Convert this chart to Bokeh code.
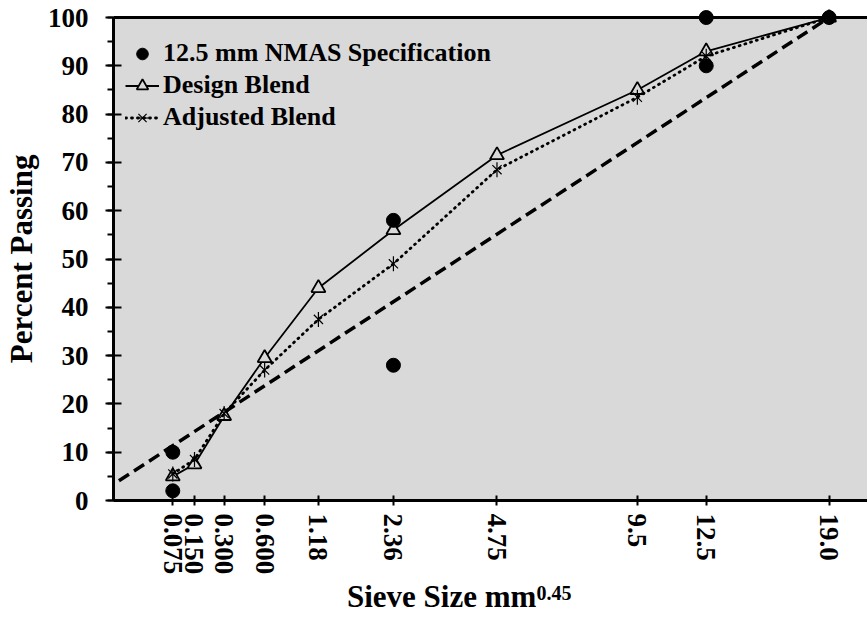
import math
import numpy as np
from bokeh.plotting import figure
from bokeh.layouts import column
from bokeh.models import (Range1d, FixedTicker, SingleIntervalTicker, Legend,
                          LegendItem, Span, BoxAnnotation, Div)
from bokeh.embed import file_html
from bokeh.resources import INLINE

# ---- data ----
sieve_mm = [0.075, 0.150, 0.300, 0.600, 1.18, 2.36, 4.75, 9.5, 12.5, 19.0]
sieve_labels = ["0.075", "0.150", "0.300", "0.600", "1.18", "2.36", "4.75", "9.5", "12.5", "19.0"]
design_blend = [5, 7.5, 17.5, 29.5, 44, 56, 71.5, 85, 93, 100]
adjusted_blend = [5.5, 8.5, 18, 27, 37.5, 49, 68.5, 83.5, 92, 100]
spec_sieve = [0.075, 0.075, 2.36, 2.36, 12.5, 12.5, 19.0]
spec_pct = [2, 10, 28, 58, 90, 100, 100]
maxden_x = [-0.13, 19.0 ** 0.45]
maxden_y = [0, 100]
EXPONENT = 0.45

xs = list(np.array(sieve_mm) ** EXPONENT)
spec_x = list(np.array(spec_sieve) ** EXPONENT)

FONT = "Liberation Serif"
GREY = "#d9d9d9"

p = figure(width=867, height=581,
           x_range=Range1d(0, 3.964), y_range=Range1d(0, 101.66),
           output_backend="svg", toolbar_location=None,
           min_border_left=113, min_border_right=0,
           min_border_top=9, min_border_bottom=81,
           background_fill_color="white", border_fill_color="white")
p.outline_line_color = None
p.grid.visible = False

p.add_layout(BoxAnnotation(left=0, bottom=0, top=100, fill_color=GREY,
                           fill_alpha=1, line_color=None, level="underlay"))
p.add_layout(Span(location=100, dimension="width", line_color="black",
                  line_width=3))

# x axis
xa = p.xaxis[0]
xa.ticker = FixedTicker(ticks=xs, minor_ticks=[])
xa.major_label_overrides = {float(t): lab for t, lab in zip(xs, sieve_labels)}
xa.major_label_orientation = -math.pi / 2
xa.major_label_text_font = FONT
xa.major_label_text_font_style = "bold"
xa.major_label_text_font_size = "27px"
xa.major_label_text_color = "black"
xa.major_label_standoff = 8
xa.axis_line_width = 3
xa.axis_line_color = "black"
xa.major_tick_in = 5
xa.major_tick_out = 5
xa.major_tick_line_width = 2
xa.minor_tick_line_color = None

# y axis
ya = p.yaxis[0]
ya.bounds = (0, 100)
ya.ticker = SingleIntervalTicker(interval=10, num_minor_ticks=2)
ya.major_label_text_font = FONT
ya.major_label_text_font_style = "bold"
ya.major_label_text_font_size = "27px"
ya.major_label_text_color = "black"
ya.major_label_standoff = 17
ya.axis_line_width = 3
ya.axis_line_color = "black"
ya.major_tick_in = 8
ya.major_tick_out = 8
ya.major_tick_line_width = 2
ya.minor_tick_in = 0
ya.minor_tick_out = 6
ya.minor_tick_line_width = 2
ya.axis_label = "Percent  Passing"
ya.axis_label_text_font = FONT
ya.axis_label_text_font_style = "bold"
ya.axis_label_text_font_size = "31px"
ya.axis_label_text_color = "black"
ya.axis_label_standoff = 6

# glyphs
p.line(maxden_x, maxden_y, line_dash="12 6", line_width=3.5, line_color="black")
dl = p.line(xs, design_blend, line_width=1.8, line_color="black")
dm = p.scatter(xs, design_blend, marker="triangle", size=14, fill_color=GREY,
               line_color="black", line_width=1.8)
al = p.line(xs, adjusted_blend, line_dash="1 5", line_width=2.8,
            line_cap="round", line_color="black")
ax1 = p.scatter(xs, adjusted_blend, marker="x", size=13, line_color="black",
                line_width=1.2)
ax2 = p.scatter(xs, adjusted_blend, marker="dash", angle=math.pi / 2, size=15,
                line_color="black", line_width=1.2)
sc = p.scatter(spec_x, spec_pct, marker="circle", size=14, fill_color="black",
               line_color="black")

legend = Legend(items=[
    LegendItem(label="12.5 mm NMAS Specification", renderers=[sc]),
    LegendItem(label="Design Blend", renderers=[dl, dm]),
    LegendItem(label="Adjusted Blend", renderers=[al, ax1, ax2]),
], location=(12, 368), margin=0, padding=0, spacing=2,
    glyph_width=34, glyph_height=29, label_height=29, label_standoff=4,
    background_fill_alpha=0, border_line_color=None,
    label_text_font=FONT, label_text_font_style="bold",
    label_text_font_size="26px", label_text_color="black")
p.add_layout(legend)

# x axis title with superscript (HTML below the plot)
title = Div(
    text=('<div style="margin-left:347px; white-space:nowrap; '
          'font-family:\'Liberation Serif\'; font-weight:bold; '
          'font-size:31px; line-height:31px; color:black;">'
          'Sieve Size mm<span style="font-size:20px; position:relative; '
          'top:-7px;">0.45</span></div>'),
    width=867, height=36, margin=0)

layout = column(p, title, spacing=0)
open("out.html", "w").write(file_html(layout, INLINE))
